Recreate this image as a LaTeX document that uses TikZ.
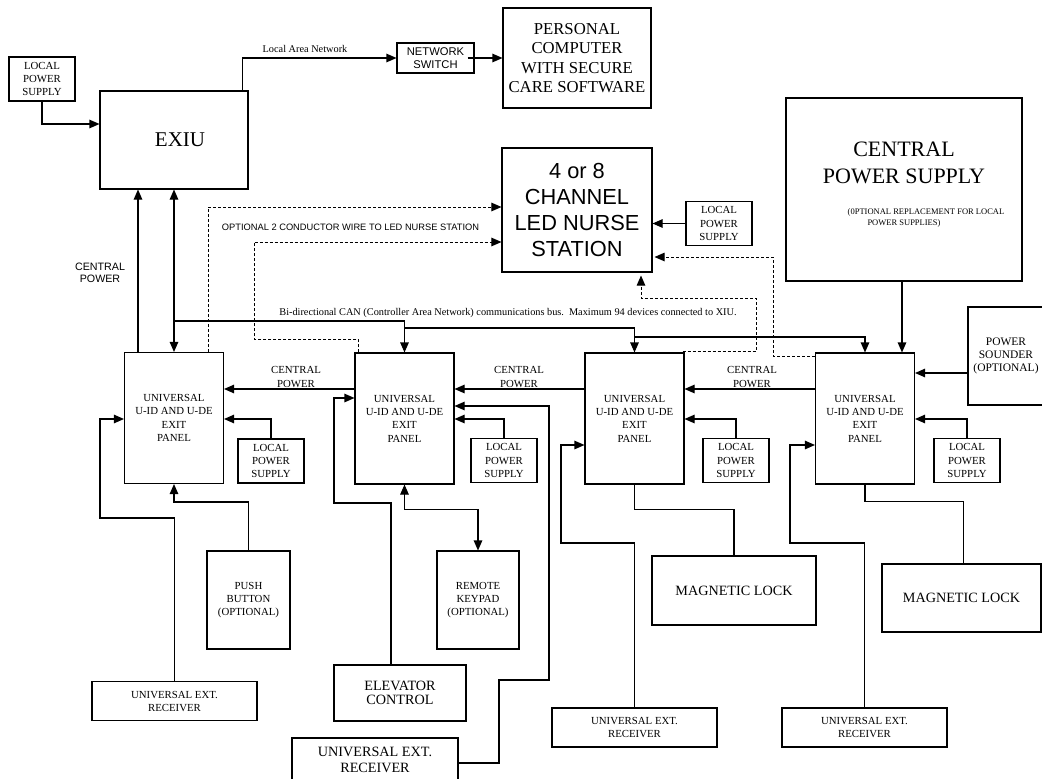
\documentclass[tikz,border=0pt]{standalone}
\usepackage{fontspec}
\setmainfont{Liberation Serif}
\setsansfont{Liberation Sans}
\usetikzlibrary{arrows.meta}
\newcommand\setfs[2]{\fontsize{#1}{#2}\selectfont}
\begin{document}
\begin{tikzpicture}[x=1pt,y=-1pt,
  box/.style={draw, line width=1.1pt, inner sep=0pt, align=center},
  wire/.style={line width=1.1pt},
  arr/.style={wire, -{Triangle[length=10pt,width=8.5pt]}},
  arrboth/.style={wire, {Triangle[length=10pt,width=8.5pt]}-{Triangle[length=10pt,width=8.5pt]}},
  dsh/.style={line width=1pt, dash pattern=on 3pt off 2pt, -{Triangle[length=10pt,width=8.5pt]}},
  small/.style={font=\setfs{10.8}{13.3}},
  lps/.style={box, small, minimum width=66pt, minimum height=44pt},
  panel/.style={box, small, minimum width=99pt, minimum height=131pt},
  rcv/.style={box, font=\setfs{10.8}{13}, minimum width=165pt, minimum height=39pt},
  lbl/.style={inner sep=0pt, align=center},
]
\fill[white] (0,0) rectangle (1042,779);
\useasboundingbox (0,0) rectangle (1042,779);

% ---------- top row ----------
\node[lps] (lps0) at (42,79) {LOCAL\\POWER\\SUPPLY};
\node[box, minimum width=148pt, minimum height=98pt, font=\setfs{21}{25}] (exiu) at (174,140) {\hspace*{12pt}EXIU};
\node[box, minimum width=77pt, minimum height=30pt, font=\sffamily\setfs{11.2}{12.3}] (switch) at (435.5,58) {NETWORK\\SWITCH};
\node[box, minimum width=148pt, minimum height=100pt, font=\setfs{16.7}{19.5}] (pc) at (577,58) {PERSONAL\\COMPUTER\\WITH SECURE\\CARE SOFTWARE};
\node[lbl, font=\setfs{10.3}{12}] (lan) at (305,49) {Local Area Network};

% ---------- nurse station and central supply ----------
\node[box, minimum width=150pt, minimum height=124pt, font=\sffamily\setfs{21.8}{26}] (nurse) at (577,210) {4 or 8\\CHANNEL\\LED NURSE\\STATION};
\node[lps] (lpsN) at (719,223.5) {LOCAL\\POWER\\SUPPLY};
\node[box, minimum width=236pt, minimum height=183pt] (cps) at (904,189.5) {};
\node[lbl, font=\setfs{22}{27}] (cpstitle) at (904,163) {CENTRAL\\POWER SUPPLY};
\node[lbl, font=\setfs{8.5}{11}] (cpsnote) at (904,217.5) {\hspace*{44pt}(0PTIONAL REPLACEMENT FOR LOCAL\\POWER SUPPLIES)};

\node[lbl, font=\sffamily\setfs{10.7}{12.3}] (cplabel0) at (100,273) {CENTRAL\\POWER};
\node[lbl, font=\sffamily\setfs{9.3}{11}] (optlabel) at (350.5,227) {OPTIONAL 2 CONDUCTOR WIRE TO LED NURSE STATION};
\node[lbl, font=\setfs{10.3}{12}] (buslabel) at (508,313) {Bi-directional CAN (Controller Area Network) communications bus.\hspace{5pt}Maximum 94 devices connected to XIU.};

% ---------- exit panels ----------
\node[panel] (panel1) at (174,418) {UNIVERSAL\\U-ID AND U-DE\\EXIT\\PANEL};
\node[panel] (panel2) at (404.5,418.5) {UNIVERSAL\\U-ID AND U-DE\\EXIT\\PANEL};
\node[panel] (panel3) at (634.5,418.5) {UNIVERSAL\\U-ID AND U-DE\\EXIT\\PANEL};
\node[panel] (panel4) at (865,418.5) {UNIVERSAL\\U-ID AND U-DE\\EXIT\\PANEL};

\node[lps] (lps1) at (271,461) {LOCAL\\POWER\\SUPPLY};
\node[lps] (lps2) at (504,460.5) {LOCAL\\POWER\\SUPPLY};
\node[lps] (lps3) at (736,460.5) {LOCAL\\POWER\\SUPPLY};
\node[lps] (lps4) at (967,460.5) {LOCAL\\POWER\\SUPPLY};

\node[box, font=\setfs{11.5}{13}, minimum width=76pt, minimum height=98pt] (sounder) at (1006,356) {POWER\\SOUNDER\\(OPTIONAL)};

\node[lbl, small] (cplabel1) at (296,377) {CENTRAL\\POWER};
\node[lbl, small] (cplabel2) at (519,377) {CENTRAL\\POWER};
\node[lbl, small] (cplabel3) at (752,377) {CENTRAL\\POWER};

% ---------- field devices ----------
\node[box, small, minimum width=83pt, minimum height=98pt] (push) at (248.5,600) {PUSH\\BUTTON\\(OPTIONAL)};
\node[box, small, minimum width=82pt, minimum height=98pt] (keypad) at (478,600) {REMOTE\\KEYPAD\\(OPTIONAL)};
\node[rcv] (rcv1) at (174.5,701) {UNIVERSAL EXT.\\RECEIVER};
\node[box, font=\setfs{14.2}{13.3}, minimum width=132pt, minimum height=56pt] (elev) at (400,693) {ELEVATOR\\CONTROL};
\node[box, font=\setfs{14.2}{16}, minimum width=166pt, minimum height=44pt] (rcv4) at (375,760) {UNIVERSAL EXT.\\RECEIVER};
\node[rcv] (rcv2) at (634.5,727.5) {UNIVERSAL EXT.\\RECEIVER};
\node[rcv] (rcv3) at (864.5,727.5) {UNIVERSAL EXT.\\RECEIVER};
\node[box, font=\setfs{14.2}{16}, minimum width=164pt, minimum height=69pt] (mag1) at (734,590.5) {MAGNETIC LOCK};
\node[box, font=\setfs{14.2}{16}, minimum width=159pt, minimum height=68pt] (mag2) at (961.5,598) {MAGNETIC LOCK};

% ---------- top connectors ----------
\draw[arr] (lps0.south) |- ([yshift=16pt]exiu.west);
\draw[arr] ([xshift=-6pt]exiu.north east) |- (switch.west);
\draw[arr] ([xshift=-7pt]switch.east) -- (pc.west |- switch.east);
\draw[arr] (lpsN.west) -- (lpsN.west -| nurse.east);
\draw[arr] ([xshift=-2pt]cps.south) -- ([xshift=-2pt]cps.south |- panel4.north);

% central power and CAN bus to the EXIU
\draw[arr] ([xshift=-36pt]panel1.north) -- ([xshift=-36pt]panel1.north |- exiu.south);
\draw[arrboth] (panel1.north) -- (panel1.north |- exiu.south);
\coordinate (bus1) at (174,321);
\coordinate (bus2) at (404.5,328);
\coordinate (bus3) at (634.5,337);
\draw[arr] (bus1) -| (panel2.north);
\draw[arr] (bus2) -| (panel3.north);
\draw[arr] (bus3) -| (panel4.north);

% central power between panels
\draw[arr] (panel2.west |- 0,389) -- (panel1.east |- 0,389);
\draw[arr] (panel3.west |- 0,389) -- (panel2.east |- 0,389);
\draw[arr] (panel4.west |- 0,389) -- (panel3.east |- 0,389);

% local supplies
\draw[arr] (lps1.north) |- (panel1.east |- 0,419);
\draw[arr] (lps2.north) |- (panel2.east |- 0,419);
\draw[arr] (lps3.north) |- (panel3.east |- 0,419);
\draw[arr] (lps4.north) |- (panel4.east |- 0,419);
\draw[arr] (sounder.west |- 0,373) -- (panel4.east |- 0,373);

% receivers and inputs
\draw[arr] (rcv1.north) |- (100,518) |- (panel1.west |- 0,419);
\draw[arr] ([xshift=-9pt]elev.north) |- (334,503) |- (panel2.west |- 0,398);
\draw[arr] (rcv2.north) |- (561,543) |- (panel3.west |- 0,445);
\draw[arr] (rcv3.north) |- (790,543) |- (panel4.west |- 0,445);
\draw[arr] (rcv4.east |- 0,763) -| (499,680) -| (549,406) -- (panel2.east |- 0,406);
\draw[arr] (push.north) |- (174,502) -- (panel1.south);
\draw[arrboth] (panel2.south) -- ++(0,25) -| (keypad.north);

% magnetic locks
\draw[wire] (panel3.south) -- ++(0,25) -| (mag1.north);
\draw[wire] (panel4.south) -- ++(0,17) -| ([xshift=2pt]mag2.north);

% optional two-conductor wiring to the nurse station
\draw[dsh] ([xshift=34pt]panel1.north) |- (nurse.west |- 0,207);
\draw[dsh] ([xshift=-46.5pt]panel2.north) |- (254,339) |- (nurse.west |- 0,242);
\draw[dsh] ([xshift=-2pt,yshift=1pt]panel3.north east) -| (756,298) -| ([xshift=64pt,yshift=-3pt]nurse.south);
\draw[dsh] (panel4.west |- 0,356) -| (773,257) -- ([xshift=2pt]nurse.east |- 0,257);
\end{tikzpicture}
\end{document}
